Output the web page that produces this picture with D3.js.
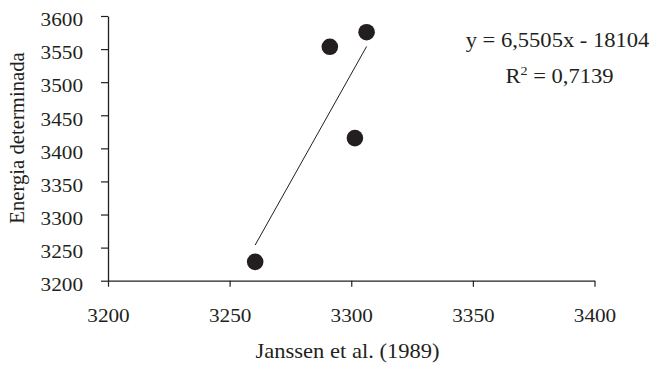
<!DOCTYPE html>
<html>
<head>
<meta charset="utf-8">
<script src="https://cdn.jsdelivr.net/npm/d3@7"></script>
<style>
  html, body { margin: 0; padding: 0; background: #fff; }
  svg text { font-family: "Liberation Serif", "Times New Roman", serif; fill: #231f20; }
</style>
</head>
<body>
<svg id="chart" width="653" height="369"></svg>
<script>
const xValues = [3260.5, 3291.2, 3301.5, 3306.3];
const yValues = [3228.5, 3553.5, 3415.5, 3575.5];
const xTicks = [3200, 3250, 3300, 3350, 3400];
const yTicks = [3200, 3250, 3300, 3350, 3400, 3450, 3500, 3550, 3600];
const slope = 6.5505;
const intercept = -18104;
const equationText = "y = 6,5505x - 18104";
const r2Value = "0,7139";
const xTitle = "Janssen et al. (1989)";
const yTitle = "Energia determinada";

const svg = d3.select("#chart");
const mLeft = 108, mRight = 594.5, mTop = 16, mBottom = 280.7;
const ink = "#231f20";
const fsTick = 19.5, fsText = 20.7, stretch = 1.09;
const ff = '"Liberation Serif", "Times New Roman", serif';

const x = d3.scaleLinear().domain([3200, 3400]).range([mLeft, mRight]);
const y = d3.scaleLinear().domain([3200, 3600]).range([mBottom, mTop]);

const xAxis = svg.append("g")
  .attr("transform", `translate(0,${mBottom})`)
  .call(d3.axisBottom(x).tickValues(xTicks).tickFormat(d3.format("d")).tickSize(6).tickPadding(21).tickSizeOuter(0));
const yAxis = svg.append("g")
  .attr("transform", `translate(${mLeft},0)`)
  .call(d3.axisLeft(y).tickValues(yTicks).tickFormat(d3.format("d")).tickSize(7).tickPadding(18).tickSizeOuter(0));

[xAxis, yAxis].forEach(g => {
  g.select(".domain").attr("stroke", ink).attr("stroke-width", 1.3);
  g.selectAll(".tick line").attr("stroke", ink).attr("stroke-width", 1.2);
  g.selectAll(".tick text").style("font-size", fsTick + "px").attr("fill", ink)
    .style("font-family", ff)
    .attr("transform", `scale(${stretch},1)`);
});
yAxis.selectAll(".tick text").attr("dy", "0.5em").attr("x", -25 / stretch);

// trend line over data extent
const [xmin, xmax] = d3.extent(xValues);
svg.append("line")
  .attr("x1", x(xmin)).attr("y1", y(slope * xmin + intercept))
  .attr("x2", x(xmax)).attr("y2", y(slope * xmax + intercept))
  .attr("stroke", ink).attr("stroke-width", 1);

svg.append("g").selectAll("circle")
  .data(xValues.map((v, i) => [v, yValues[i]]))
  .join("circle")
  .attr("cx", d => x(d[0]))
  .attr("cy", d => y(d[1]))
  .attr("r", 8.3)
  .attr("fill", ink);

// equation
svg.append("text")
  .attr("transform", `translate(557.5,47) scale(${stretch},1)`)
  .attr("text-anchor", "middle")
  .style("font-size", fsText + "px")
  .text(equationText);
const r2 = svg.append("text")
  .attr("transform", `translate(559.5,83) scale(${stretch},1)`)
  .attr("text-anchor", "middle")
  .style("font-size", fsText + "px");
r2.append("tspan").text("R");
r2.append("tspan").attr("dy", -8.5).style("font-size", "13px").text("2");
r2.append("tspan").attr("dy", 8.5).text(" = " + r2Value);

svg.append("text")
  .attr("transform", `translate(347.5,358) scale(${stretch},1)`)
  .attr("text-anchor", "middle")
  .style("font-size", fsText + "px")
  .text(xTitle);
svg.append("text")
  .attr("transform", `translate(24,138) rotate(-90)`)
  .attr("text-anchor", "middle")
  .style("font-size", fsText + "px")
  .text(yTitle);
</script>
</body>
</html>
